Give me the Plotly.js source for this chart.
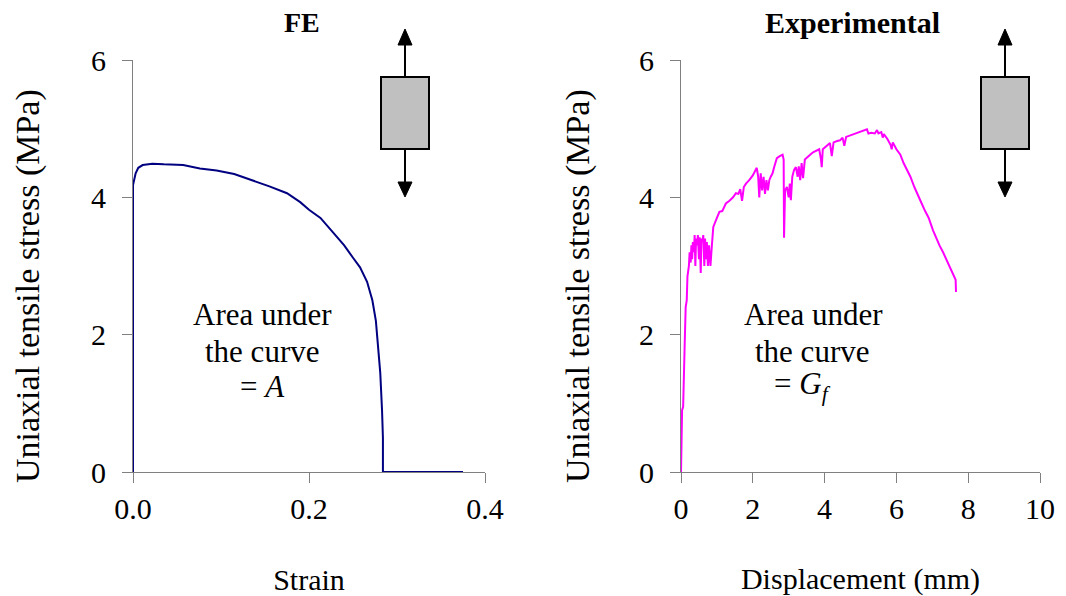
<!DOCTYPE html>
<html>
<head>
<meta charset="utf-8">
<script src="https://cdn.plot.ly/plotly-3.0.1.min.js"></script>
<style>html,body{margin:0;padding:0;background:#fff;}</style>
</head>
<body>
<div id="chart" style="width:1066px;height:596px;"></div>
<script>
// ---- FE (left) ----
const feStrain = [0, 0, 0.003, 0.006, 0.011, 0.022, 0.035, 0.057, 0.076, 0.095, 0.115, 0.136, 0.155, 0.175, 0.19, 0.2, 0.213, 0.228, 0.24, 0.25, 0.258, 0.266, 0.272, 0.276, 0.279, 0.281, 0.283, 0.284, 0.284, 0.375];
const feStress = [0, 4.18, 4.35, 4.43, 4.47, 4.49, 4.48, 4.47, 4.42, 4.39, 4.34, 4.25, 4.16, 4.06, 3.93, 3.82, 3.7, 3.48, 3.3, 3.12, 2.98, 2.77, 2.5, 2.2, 1.8, 1.44, 0.9, 0.5, 0, 0];

// ---- Experimental (right) ----
const expDisp = [0, 0.03, 0.06, 0.08, 0.1, 0.13, 0.16, 0.18, 0.22, 0.24, 0.27, 0.29, 0.31, 0.33, 0.36, 0.38, 0.4, 0.42, 0.45, 0.47, 0.5, 0.52, 0.55, 0.57, 0.6, 0.62, 0.65, 0.67, 0.7, 0.72, 0.75, 0.78, 0.82, 0.86, 0.9, 1.0, 1.07, 1.15, 1.25, 1.35, 1.45, 1.53, 1.6, 1.65, 1.7, 1.75, 1.81, 1.9, 2.0, 2.11, 2.15, 2.18, 2.22, 2.26, 2.3, 2.34, 2.38, 2.42, 2.46, 2.5, 2.55, 2.6, 2.67, 2.75, 2.83, 2.86, 2.87, 2.89, 2.9, 2.95, 3.0, 3.03, 3.06, 3.1, 3.15, 3.2, 3.25, 3.28, 3.32, 3.36, 3.4, 3.45, 3.5, 3.56, 3.62, 3.69, 3.76, 3.85, 3.9, 3.92, 3.95, 4.05, 4.15, 4.2, 4.25, 4.35, 4.43, 4.5, 4.55, 4.6, 4.7, 4.8, 4.9, 5.0, 5.1, 5.18, 5.22, 5.3, 5.4, 5.46, 5.5, 5.58, 5.62, 5.65, 5.75, 5.84, 5.87, 5.9, 6.0, 6.11, 6.2, 6.3, 6.39, 6.5, 6.57, 6.67, 6.8, 6.9, 7.02, 7.1, 7.2, 7.3, 7.4, 7.5, 7.6, 7.65, 7.66];
const expStress = [0, 0.9, 0.95, 1.75, 1.8, 2.4, 2.5, 2.85, 3.0, 3.2, 3.05, 3.3, 3.1, 3.35, 3.2, 3.45, 3.0, 3.4, 3.3, 3.45, 3.1, 3.42, 2.9, 3.4, 3.35, 3.45, 3.0, 3.4, 3.1, 3.35, 3.0, 3.3, 3.0, 3.3, 3.57, 3.7, 3.79, 3.8, 3.91, 3.95, 4.0, 4.06, 4.05, 4.12, 3.95, 4.15, 4.2, 4.25, 4.32, 4.43, 4.3, 4.0, 4.35, 4.1, 4.3, 4.05, 4.25, 4.1, 4.25, 4.3, 4.35, 4.45, 4.57, 4.6, 4.62, 4.55, 3.41, 3.9, 4.1, 4.15, 4.0, 4.2, 3.96, 4.3, 4.4, 4.44, 4.3, 4.45, 4.25, 4.5, 4.28, 4.55, 4.57, 4.6, 4.63, 4.66, 4.68, 4.7, 4.55, 4.44, 4.7, 4.75, 4.79, 4.6, 4.8, 4.82, 4.83, 4.87, 4.75, 4.88, 4.9, 4.92, 4.93, 4.95, 4.97, 4.99, 4.93, 4.94, 4.93, 4.98, 4.93, 4.95, 4.87, 4.92, 4.85, 4.76, 4.7, 4.8, 4.7, 4.62, 4.5, 4.4, 4.3, 4.15, 4.06, 3.95, 3.8, 3.7, 3.52, 3.42, 3.3, 3.2, 3.09, 2.98, 2.87, 2.8, 2.62];

const xTicksFE = [0, 0.2, 0.4];
const xTicksExp = [0, 2, 4, 6, 8, 10];
const yTicks = [0, 2, 4, 6];

// ---- layout geometry (pixels) ----
const W = 1066, H = 596, L = 133, R = 26, T = 60, B = 124;
const PW = W - L - R, PH = H - T - B;
const px = x => (x - L) / PW;
const py = y => (H - B - y) / PH;

const FONT = 'Liberation Serif, Times New Roman, serif';
const axisCommon = {
  showline: true, linecolor: '#808080', linewidth: 1,
  ticks: 'outside', ticklen: 10, tickwidth: 1, tickcolor: '#808080',
  showgrid: false, zeroline: false, fixedrange: true,
  tickfont: {family: FONT, size: 30, color: '#000'}
};

const traces = [
  {x: feStrain, y: feStress, type: 'scatter', mode: 'lines', cliponaxis: false,
   line: {color: '#000080', width: 2}, xaxis: 'x', yaxis: 'y', hoverinfo: 'skip'},
  {x: expDisp, y: expStress, type: 'scatter', mode: 'lines', cliponaxis: false,
   line: {color: '#FF00FF', width: 2}, xaxis: 'x2', yaxis: 'y2', hoverinfo: 'skip'}
];

function loadBox(cx) {
  // decorative specimen icon: box with two arrows
  const s = [];
  s.push({type: 'line', xref: 'paper', yref: 'paper', x0: px(cx), x1: px(cx), y0: py(44), y1: py(77), line: {color: '#000', width: 2}});
  s.push({type: 'line', xref: 'paper', yref: 'paper', x0: px(cx), x1: px(cx), y0: py(149), y1: py(183), line: {color: '#000', width: 2}});
  s.push({type: 'rect', xref: 'paper', yref: 'paper', x0: px(cx - 24), x1: px(cx + 24), y0: py(149), y1: py(77), fillcolor: '#C0C0C0', line: {color: '#000', width: 2}});
  s.push({type: 'path', xref: 'paper', yref: 'paper', fillcolor: '#000', line: {color: '#000', width: 1},
    path: `M ${px(cx - 7)} ${py(45)} L ${px(cx + 7)} ${py(45)} L ${px(cx)} ${py(29)} Z`});
  s.push({type: 'path', xref: 'paper', yref: 'paper', fillcolor: '#000', line: {color: '#000', width: 1},
    path: `M ${px(cx - 7)} ${py(182)} L ${px(cx + 7)} ${py(182)} L ${px(cx)} ${py(197)} Z`});
  return s;
}

function textAnn(text, x, y, size, extra) {
  return Object.assign({text: text, xref: 'paper', yref: 'paper', x: px(x), y: py(y),
    xanchor: 'center', yanchor: 'middle', showarrow: false,
    font: {family: FONT, size: size, color: '#000'}}, extra || {});
}

const yTitle = 'Uniaxial tensile stress (MPa)';
const annotations = [
  textAnn('<b>FE</b>', 302, 22, 28),
  textAnn('<b>Experimental</b>', 852, 22, 30),
  textAnn(yTitle, 28, 286, 34, {textangle: -90}),
  textAnn(yTitle, 578, 286, 34, {textangle: -90}),
  textAnn('Area under', 262, 314, 31),
  textAnn('the curve', 262, 351, 31),
  textAnn('= <i>A</i>', 262, 386, 31),
  textAnn('Area under', 813, 314, 31),
  textAnn('the curve', 812, 351, 31),
  textAnn('= <i>G<sub>f</sub></i>', 802, 386, 31)
];

const layout = {
  width: W, height: H,
  margin: {l: L, r: R, t: T, b: B, pad: 0},
  paper_bgcolor: '#fff', plot_bgcolor: '#fff',
  showlegend: false,
  font: {family: FONT, color: '#000'},
  xaxis: Object.assign({}, axisCommon, {domain: [0, px(485)], range: [0, 0.4], tickvals: xTicksFE,
    ticktext: xTicksFE.map(v => v.toFixed(1)), anchor: 'y',
    title: {text: 'Strain', font: {family: FONT, size: 30, color: '#000'}, standoff: 53}}),
  yaxis: Object.assign({}, axisCommon, {domain: [0, 1], range: [0, 6], tickvals: yTicks, anchor: 'x',
    ticklabelstandoff: 10}),
  xaxis2: Object.assign({}, axisCommon, {domain: [px(681), 1], range: [0, 10], tickvals: xTicksExp, anchor: 'y2',
    title: {text: 'Displacement (mm)', font: {family: FONT, size: 30, color: '#000'}, standoff: 53}}),
  yaxis2: Object.assign({}, axisCommon, {domain: [0, 1], range: [0, 6], tickvals: yTicks, anchor: 'x2',
    ticklabelstandoff: 10}),
  shapes: loadBox(405).concat(loadBox(1005)),
  annotations: annotations
};

Plotly.newPlot('chart', traces, layout, {displayModeBar: false, staticPlot: true});
</script>
</body>
</html>
